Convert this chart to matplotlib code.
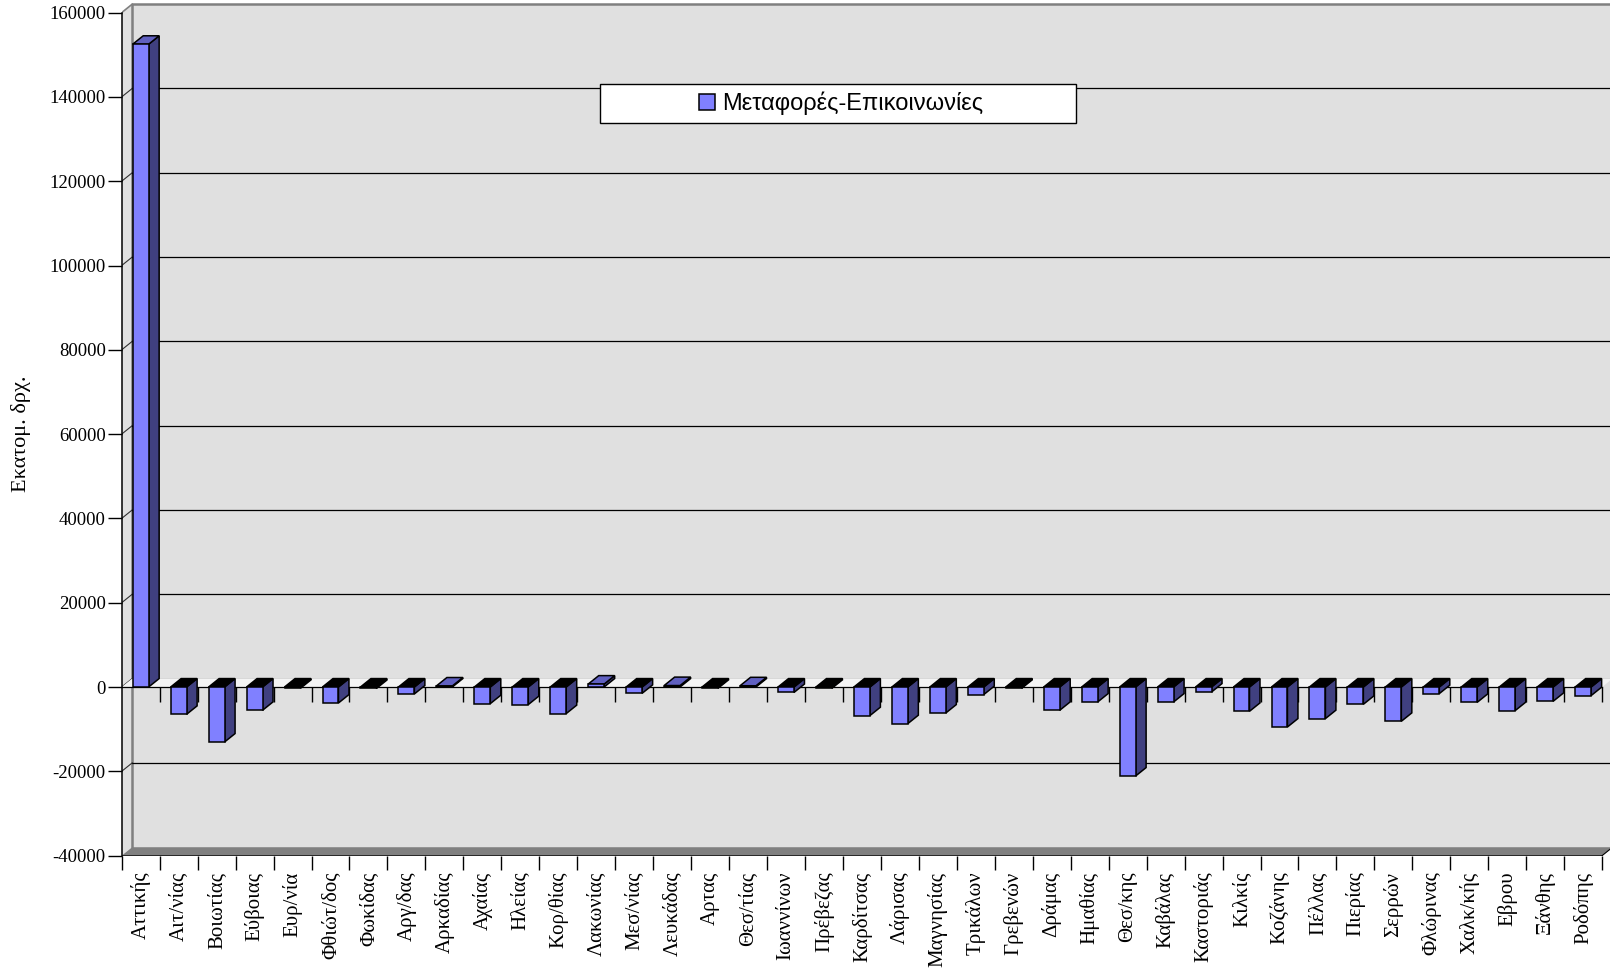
import matplotlib
matplotlib.use("Agg")
import matplotlib.pyplot as plt
from matplotlib.patches import Polygon, Rectangle

plt.rcParams['font.family'] = ['Liberation Serif', 'DejaVu Serif']
plt.rcParams['axes.unicode_minus'] = False

# Νομοί και μεταβολή (εκατομ. δρχ.)
regions = ["Αττικής", "Αιτ/νίας", "Βοιωτίας", "Εύβοιας", "Ευρ/νία", "Φθιώτ/δος",
           "Φωκίδας", "Αργ/δας", "Αρκαδίας", "Αχαίας", "Ηλείας", "Κορ/θίας",
           "Λακωνίας", "Μεσ/νίας", "Λευκάδας", "Αρτας", "Θεσ/τίας", "Ιωαννίνων",
           "Πρέβεζας", "Καρδίτσας", "Λάρισας", "Μαγνησίας", "Τρικάλων", "Γρεβενών",
           "Δράμας", "Ημαθίας", "Θεσ/κης", "Καβάλας", "Καστοριάς", "Κιλκίς",
           "Κοζάνης", "Πέλλας", "Πιερίας", "Σερρών", "Φλώρινας", "Χαλκ/κής",
           "Εβρου", "Ξάνθης", "Ροδόπης"]
values = [152500, -6480, -13050, -5530, -300, -3800,
          -350, -1650, 250, -3950, -4180, -6310,
          700, -1500, 350, -300, 300, -1300,
          -300, -6790, -8690, -6170, -1800, -300,
          -5530, -3560, -21120, -3560, -1190, -5770,
          -9490, -7500, -4110, -8140, -1570, -3630,
          -5600, -3390, -2040]
series_name = "Μεταφορές-Επικοινωνίες"
yticks = [-40000, -20000, 0, 20000, 40000, 60000, 80000, 100000, 120000, 140000, 160000]

n = len(regions)
ymin, ymax = -40000, 160000
dx, dy = 0.2766, 2000          # depth offset of the 3d box (x in categories, y in value units)
width = 0.42

front = "#8080ff"
side = "#404080"
top = "#6060c0"
wall = "#e0e0e0"
floor_col = "#808080"

fig = plt.figure(figsize=(16.1, 9.68), dpi=100)
ax = fig.add_axes([121.7 / 1610, 1 - 855.6 / 968, 1 - 121.7 / 1610, 855.6 / 968])
ax.set_xlim(0, (1610 - 121.7) / 37.96)
ax.set_ylim(ymin, ymax + 12.6 * 20000 / 84.3)
ax.patch.set_visible(False)

# back wall and its border
ax.add_patch(Polygon([(dx, ymin + dy), (n + dx, ymin + dy), (n + dx, ymax + dy), (dx, ymax + dy)],
                     closed=True, facecolor=wall, edgecolor="none", zorder=0))
ax.plot([dx, dx, n + dx], [ymin + dy, ymax + dy, ymax + dy], color=floor_col, lw=1.8, zorder=1)

# left wall
ax.add_patch(Polygon([(0, ymin), (0, ymax), (dx, ymax + dy), (dx, ymin + dy)],
                     closed=True, facecolor=wall, edgecolor="none", zorder=0))
ax.plot([0, dx], [ymax, ymax + dy], color=floor_col, lw=1.2, zorder=1)

# gridlines on the back wall and the small diagonals on the side wall
for v in yticks[1:-1]:
    ax.plot([dx, n + dx], [v + dy, v + dy], color="black", lw=0.9, zorder=1)
for v in yticks[1:-1]:
    ax.plot([0, dx], [v, v + dy], color="#303030", lw=0.8, zorder=1)

# floor
ax.add_patch(Polygon([(0, ymin), (n, ymin), (n + dx, ymin + dy), (dx, ymin + dy)],
                     closed=True, facecolor=floor_col, edgecolor="none", zorder=1))
ax.plot([0, n], [ymin, ymin], color="black", lw=1.1, zorder=2)
ax.plot([n, n + dx], [ymin, ymin + dy], color="black", lw=0.8, zorder=2)

# plane at zero with its category ticks
ax.add_patch(Polygon([(0, 0), (n, 0), (n + dx, dy), (dx, dy)],
                     closed=True, facecolor="#f4f4f4", edgecolor="none", zorder=1))
ax.plot([0, n], [0, 0], color="black", lw=0.9, zorder=2)
ax.vlines(range(1, n + 1), -3560, 0, color="black", lw=1.0, zorder=2)

# front faces of the columns
xs = [i + 0.5 for i in range(n)]
bars = ax.bar(xs, values, width=width, color=front, edgecolor="black", linewidth=1.1,
              zorder=4, label=series_name)

# side and top faces
for x, v in zip(xs, values):
    x0, x1 = x - width / 2, x + width / 2
    ax.add_patch(Polygon([(x1, 0), (x1 + dx, dy), (x1 + dx, v + dy), (x1, v)], closed=True,
                         facecolor=side, edgecolor="black", lw=1.1, zorder=3))
    h = max(v, 0)
    ax.add_patch(Polygon([(x0, h), (x1, h), (x1 + dx, h + dy), (x0 + dx, h + dy)], closed=True,
                         facecolor=top if v > 0 else "black", edgecolor="black", lw=1.1, zorder=3))

# axes, ticks and labels
for s in ["top", "right", "bottom"]:
    ax.spines[s].set_visible(False)
ax.spines["left"].set_bounds(ymin, ymax)
ax.spines["left"].set_linewidth(1.1)

ax.set_yticks(yticks)
ax.set_yticklabels([str(v) for v in yticks])
ax.tick_params(axis="y", direction="out", length=10, width=1.0, pad=1.5, labelsize=13.5)

ax.set_xticks(range(n + 1))
ax.set_xticklabels([])
ax.set_xticks(xs, minor=True)
ax.set_xticklabels(regions, minor=True, rotation=90, va="top", ha="center")
ax.tick_params(axis="x", which="major", direction="out", length=10, width=1.0)
ax.tick_params(axis="x", which="minor", length=0, pad=11.5, labelsize=15)

fig.text(21 / 1610, 1 - 434 / 968, "Εκατομ. δρχ.", rotation=90, ha="center", va="center", fontsize=16)

# legend box
fig.patches.append(Rectangle((600 / 1610, 1 - 122.7 / 968), 475.7 / 1610, 38.7 / 968,
                             transform=fig.transFigure, facecolor="white", edgecolor="black",
                             lw=1.0, zorder=5))
leg = fig.legend(handles=[bars], loc="center", bbox_to_anchor=(841 / 1610, 1 - 103.4 / 968),
                 frameon=False, prop={"family": "Liberation Sans", "size": 17},
                 handlelength=0.68, handleheight=0.68, handletextpad=0.3, borderpad=0)
leg.set_zorder(6)

fig.savefig("out.png", dpi=100)
